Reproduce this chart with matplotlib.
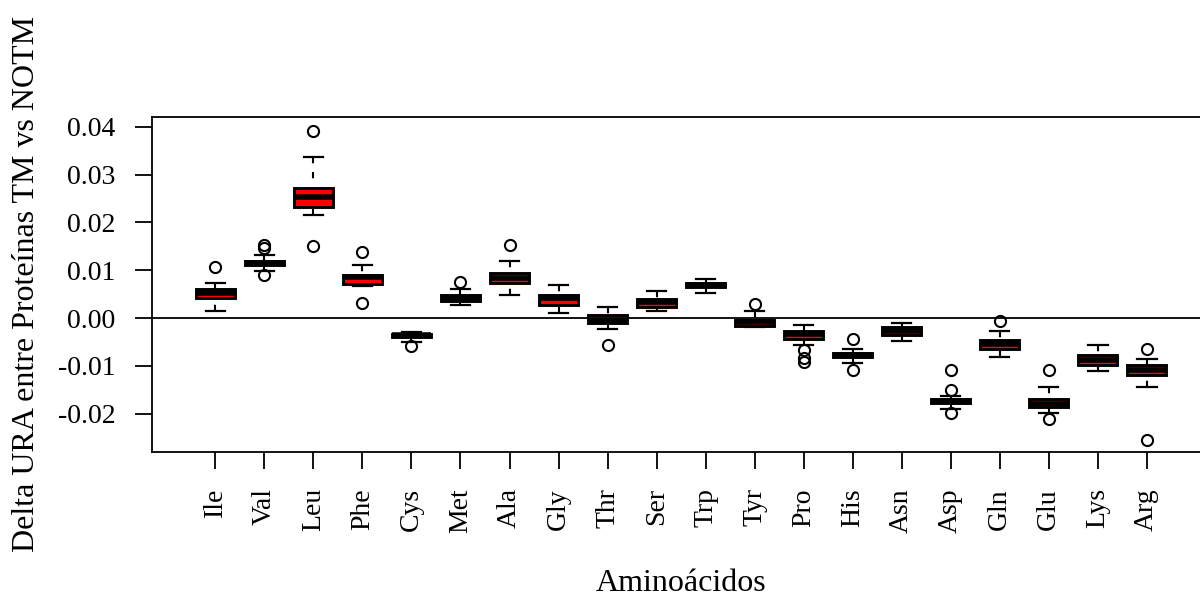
import matplotlib
matplotlib.use("Agg")
import matplotlib.pyplot as plt

plt.rcParams['font.family'] = ['Liberation Serif', 'DejaVu Serif']

# Amino acids and the five-number summaries of delta URA (TM - NOTM)
aminoacids = ['Ile', 'Val', 'Leu', 'Phe', 'Cys', 'Met', 'Ala', 'Gly', 'Thr', 'Ser',
              'Trp', 'Tyr', 'Pro', 'His', 'Asn', 'Asp', 'Gln', 'Glu', 'Lys', 'Arg']
whis_low = [0.0015, 0.0099, 0.0216, 0.0067, -0.0049, 0.0027, 0.0049, 0.0010, -0.0023, 0.0015,
            0.0052, -0.0018, -0.0057, -0.0094, -0.0048, -0.0190, -0.0081, -0.0198, -0.0110, -0.0144]
q1 = [0.0041, 0.0110, 0.0232, 0.0071, -0.0040, 0.0035, 0.0074, 0.0028, -0.0010, 0.0023,
      0.0064, -0.0016, -0.0043, -0.0082, -0.0035, -0.0177, -0.0064, -0.0186, -0.0098, -0.0118]
medians = [0.0052, 0.0115, 0.0253, 0.0085, -0.0036, 0.0042, 0.0084, 0.0042, -0.0004, 0.0033,
           0.0069, -0.0008, -0.0033, -0.0078, -0.0027, -0.0173, -0.0054, -0.0180, -0.0088, -0.0109]
q3 = [0.0060, 0.0120, 0.0271, 0.0090, -0.0033, 0.0048, 0.0094, 0.0048, 0.0006, 0.0039,
      0.0074, -0.0003, -0.0027, -0.0073, -0.0018, -0.0169, -0.0046, -0.0169, -0.0077, -0.0098]
whis_high = [0.0073, 0.0132, 0.0336, 0.0110, -0.0030, 0.0060, 0.0120, 0.0070, 0.0023, 0.0056,
             0.0081, 0.0015, -0.0015, -0.0065, -0.0010, -0.0162, -0.0028, -0.0145, -0.0056, -0.0085]
outliers = [[0.0107], [0.0153, 0.0147, 0.0091], [0.0391, 0.0151], [0.0139, 0.0031], [-0.0058],
            [0.0075], [0.0152], [], [-0.0056], [],
            [], [0.0029], [-0.0066, -0.0083, -0.0092], [-0.0044, -0.0108], [],
            [-0.0109, -0.0150, -0.0198], [-0.0007], [-0.0109, -0.0212], [], [-0.0064, -0.0254]]

stats = []
for i, name in enumerate(aminoacids):
    stats.append({'label': name, 'whislo': whis_low[i], 'q1': q1[i], 'med': medians[i],
                  'q3': q3[i], 'whishi': whis_high[i], 'fliers': outliers[i]})

fig = plt.figure(figsize=(12, 5.99), dpi=100)
ax = fig.add_axes([0.1264, 0.2454, 0.8823, 0.5598])

positions = list(range(1, len(aminoacids) + 1))
bp = ax.bxp(stats, positions=positions, widths=0.8, capwidths=0.4, patch_artist=True,
            boxprops=dict(facecolor='red', edgecolor='black', linewidth=2.1),
            medianprops=dict(color='black', linewidth=4.0, solid_capstyle='butt'),
            whiskerprops=dict(color='black', linewidth=1.5, linestyle=(0, (3.0, 4.2))),
            capprops=dict(color='black', linewidth=1.6),
            flierprops=dict(marker='o', markerfacecolor='none', markeredgecolor='black',
                            markersize=8, markeredgewidth=1.5))

# dashes start at the whisker end, as in R
for w in bp['whiskers']:
    w.set_ydata(w.get_ydata()[::-1])

ax.axhline(0, color='black', linewidth=1.3, zorder=1)

ax.set_xlim(-0.3, 21.3)
ax.set_ylim(-0.0280, 0.0421)
ax.set_yticks([-0.02, -0.01, 0.00, 0.01, 0.02, 0.03, 0.04])
ax.set_yticklabels(['-0.02', '-0.01', '0.00', '0.01', '0.02', '0.03', '0.04'])
ax.set_xticks(positions)
ax.set_xticklabels(aminoacids, rotation=90)

ax.tick_params(axis='both', length=12, width=1.3, labelsize=20, pad=14)
for s in ax.spines.values():
    s.set_linewidth(1.3)

ax.set_xlabel('Aminoácidos', fontsize=23, labelpad=26)
ax.set_ylabel('Delta URA entre Proteínas TM vs NOTM', fontsize=23, labelpad=12)

fig.savefig('out.png', dpi=100)
